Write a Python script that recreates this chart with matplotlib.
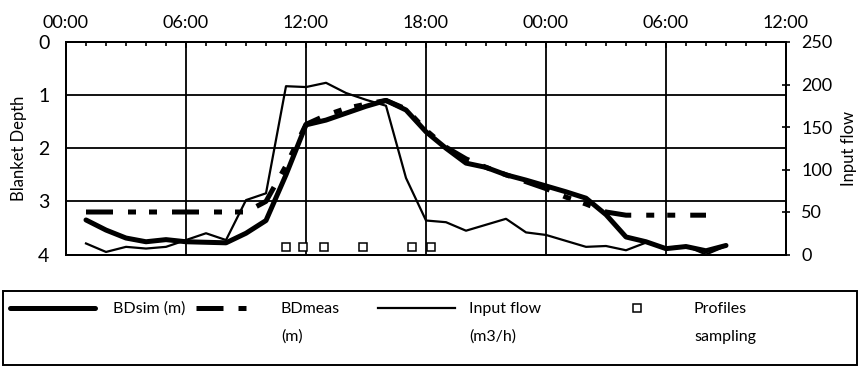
import numpy as np
import matplotlib.pyplot as plt
from matplotlib.patches import Rectangle

# %% Data (hours from 00:00 of day 1)

hours = [1, 2, 3, 4, 5, 6, 7, 8, 9, 10, 11, 12, 13, 14, 15, 16, 17,
         18, 19, 20, 21, 22, 23, 24, 25, 26, 27, 28, 29, 30, 31, 32, 33]

bd_sim = [3.35, 3.54, 3.69, 3.76, 3.72, 3.76, 3.77, 3.78, 3.60, 3.36, 2.50,
          1.56, 1.47, 1.34, 1.21, 1.10, 1.28, 1.69, 2.00, 2.28, 2.36, 2.50,
          2.60, 2.71, 2.82, 2.94, 3.25, 3.67, 3.76, 3.89, 3.85, 3.93, 3.83]

meas_hours = hours[:32]
bd_meas = [3.20, 3.20, 3.20, 3.20, 3.20, 3.20, 3.20, 3.20, 3.20, 3.00, 2.33,
           1.55, 1.38, 1.25, 1.17, 1.10, 1.26, 1.66, 1.98, 2.20, 2.36, 2.50,
           2.63, 2.76, 2.92, 3.05, 3.20, 3.26, 3.26, 3.26, 3.26, 3.26]

input_flow = [13, 3, 9, 7, 9, 17, 25, 17, 64, 72, 198, 197, 202, 190, 182,
              175, 90, 40, 38, 28, 35, 42, 26, 23, 16, 9, 10, 5, 14, 8, 10,
              0, 10]

sample_hours = [11.0, 11.83, 12.9, 14.87, 17.32, 18.23]
sample_depth = [3.86, 3.86, 3.86, 3.86, 3.86, 3.86]

time_ticks = [0, 6, 12, 18, 24, 30, 36]
time_labels = ["00:00", "06:00", "12:00", "18:00", "00:00", "06:00", "12:00"]

# %% Figure

plt.rcParams["font.family"] = ["Lato", "DejaVu Sans"]
plt.rcParams["font.size"] = 12

W, H = 862, 367
fig = plt.figure(figsize=(W / 100, H / 100), dpi=100)
ax = fig.add_axes([66 / W, 1 - 254.5 / H, 720 / W, 212.5 / H])
ax2 = ax.twinx()

# depth axis
ax.set_xlim(0, 36)
ax.set_ylim(4, 0)
ax.set_yticks([0, 1, 2, 3, 4])
ax.xaxis.tick_top()
ax.set_xticks(time_ticks)
ax.set_xticklabels(time_labels)
ax.set_xticks(np.arange(0, 37, 1), minor=True)
ax.tick_params(axis="x", which="major", direction="in", length=4, width=1.2,
               pad=8, labelsize=13)
ax.tick_params(axis="x", which="minor", direction="in", length=3, width=1.2)
ax.tick_params(axis="y", direction="in", length=0, pad=12, labelsize=14)
ax.grid(True, color="black", linewidth=1.3)
ax.set_axisbelow(True)
ax.set_ylabel("Blanket Depth", labelpad=8, fontsize=12)

for s in ax.spines.values():
    s.set_linewidth(1.4)

l_sim, = ax.plot(hours, bd_sim, color="black", linewidth=3.6,
                 solid_joinstyle="round", solid_capstyle="round")
l_meas, = ax.plot(meas_hours, bd_meas, color="black", linewidth=3.6,
                  linestyle=(0, (5.4, 3.0, 1.6, 2.6, 1.6, 3.0)))
l_samp, = ax.plot(sample_hours, sample_depth, linestyle="none", marker="s",
                  markersize=5.5, markerfacecolor="white",
                  markeredgecolor="black", markeredgewidth=1.1)

# flow axis
l_flow, = ax2.plot(hours, input_flow, color="black", linewidth=1.6)
ax2.set_ylim(0, 250)
ax2.set_yticks([0, 50, 100, 150, 200, 250])
ax2.tick_params(axis="y", direction="inout", length=6, width=1.2, pad=8,
                labelsize=13)
ax2.set_ylabel("Input flow", labelpad=6, fontsize=12)
for s in ax2.spines.values():
    s.set_linewidth(1.4)

# %% Legend

fig.patches.append(Rectangle((3 / W, 1 - 365 / H), 854 / W, 74 / H,
                             transform=fig.transFigure, fill=False,
                             edgecolor="black", linewidth=1.4))

fs = 11.5
fs_px = fs * 100 / 72
entries = [
    (l_sim, "BDsim (m)", "", 10, 85, 18),
    (l_meas, "BDmeas", "(m)", 196, 61, 24),
    (l_flow, "Input flow", "(m3/h)", 378, 77, 14),
    (l_samp, "Profiles", "sampling", 622, 30, 42),
]
for handle, line1, line2, x0, hl, gap in entries:
    fig.legend([handle], [line1], loc="center left",
               bbox_to_anchor=(x0 / W, 1 - 309 / H),
               frameon=False, borderpad=0, borderaxespad=0,
               handlelength=hl / fs_px, handletextpad=gap / fs_px,
               fontsize=fs)
    if line2:
        fig.text((x0 + hl + gap) / W, 1 - 337 / H, line2, fontsize=fs,
                 va="center", ha="left")

fig.savefig("out.png", dpi=100)
